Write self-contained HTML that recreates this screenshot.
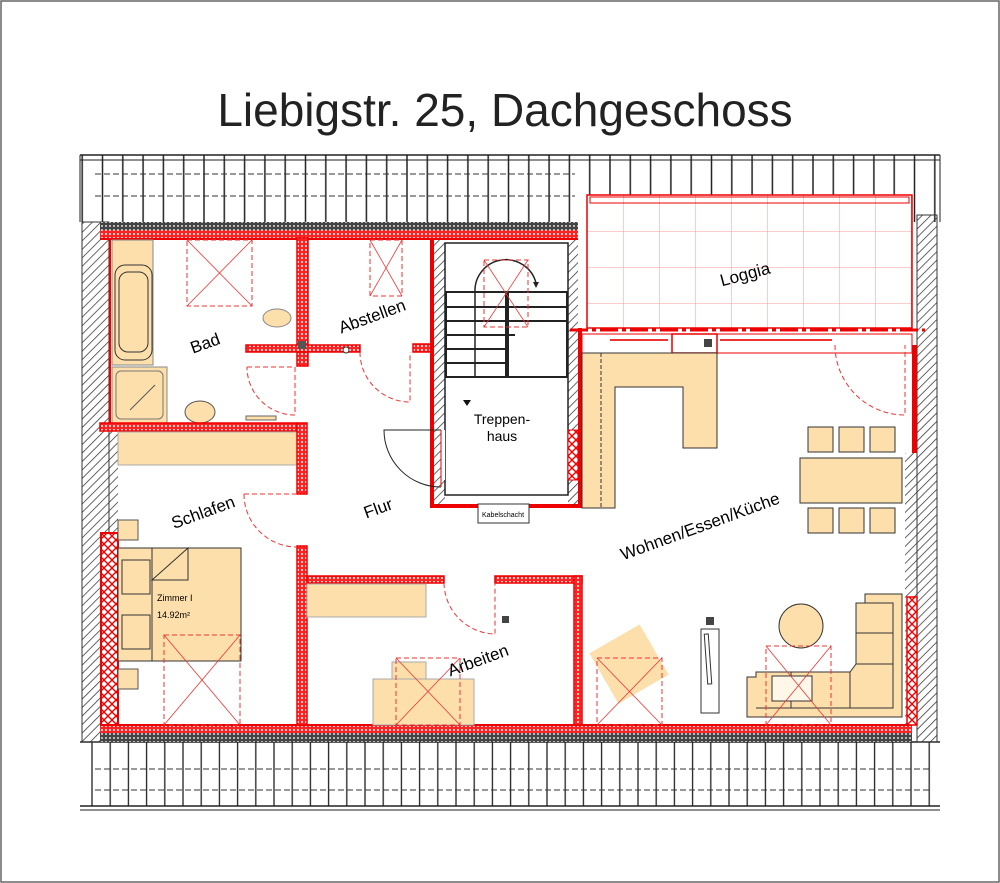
<!DOCTYPE html>
<html><head><meta charset="utf-8"><style>
html,body{margin:0;padding:0;background:#fff;}
svg{display:block;}
text{font-family:"Liberation Sans",Arial,sans-serif;}
</style></head><body>
<svg width="1000" height="883" viewBox="0 0 1000 883" xmlns="http://www.w3.org/2000/svg">
<defs>
<pattern id="raf" x="0" y="0" width="20.3" height="10" patternUnits="userSpaceOnUse"><line x1="1" y1="0" x2="1" y2="10" stroke="#222" stroke-width="1.5"/></pattern>
<pattern id="raf2" x="0" y="0" width="18.2" height="10" patternUnits="userSpaceOnUse"><line x1="1" y1="0" x2="1" y2="10" stroke="#222" stroke-width="1.3"/></pattern>
<pattern id="hat" width="6" height="6" patternUnits="userSpaceOnUse" patternTransform="rotate(45)"><line x1="0" y1="0" x2="0" y2="6" stroke="#333" stroke-width="1.5"/></pattern>
<pattern id="rx" width="8" height="8" patternUnits="userSpaceOnUse"><rect width="8" height="8" fill="#fff"/><path d="M0 0L8 8M8 0L0 8" stroke="#e00" stroke-width="1.4"/></pattern>
<pattern id="rw" width="4" height="4" patternUnits="userSpaceOnUse"><rect width="4" height="4" fill="#f22"/><circle cx="2" cy="2" r="1" fill="#fff"/></pattern>
<pattern id="gw" width="4" height="4" patternUnits="userSpaceOnUse"><rect width="4" height="4" fill="#444"/><circle cx="2" cy="2" r="1" fill="#ddd"/></pattern>
<pattern id="grid" x="587" y="195" width="36" height="36" patternUnits="userSpaceOnUse"><path d="M0 0H36M0 0V36" stroke="#f59a9a" stroke-width="1"/></pattern>
</defs>
<rect x="1" y="1" width="998" height="881" fill="none" stroke="#666" stroke-width="1.5"/>
<text x="505" y="126" font-size="46" text-anchor="middle" fill="#222">Liebigstr. 25, Dachgeschoss</text>

<!-- top roof band -->
<rect x="80" y="155" width="860" height="67" fill="url(#raf)"/>
<line x1="80" y1="155" x2="940" y2="155" stroke="#222" stroke-width="1.5"/>
<line x1="80" y1="160" x2="940" y2="160" stroke="#222" stroke-width="1"/>
<line x1="80" y1="155" x2="80" y2="222" stroke="#222"/>
<line x1="940" y1="155" x2="940" y2="222" stroke="#222"/>
<line x1="95" y1="174" x2="575" y2="174" stroke="#333" stroke-dasharray="6,3"/>
<line x1="95" y1="196" x2="575" y2="196" stroke="#333" stroke-dasharray="6,3"/>
<rect x="587" y="195" width="325" height="30" fill="#fff"/>

<!-- bottom roof band -->
<rect x="80" y="742" width="860" height="64" fill="url(#raf2)"/>
<line x1="80" y1="742" x2="940" y2="742" stroke="#222" stroke-width="1.5"/>
<line x1="80" y1="806" x2="940" y2="806" stroke="#222" stroke-width="1.5"/>
<line x1="80" y1="810" x2="940" y2="810" stroke="#222" stroke-width="1"/>
<line x1="95" y1="769" x2="930" y2="769" stroke="#333" stroke-dasharray="6,3"/>
<line x1="95" y1="790" x2="930" y2="790" stroke="#333" stroke-dasharray="6,3"/>

<!-- side hatched walls -->
<rect x="82" y="222" width="27" height="520" fill="url(#hat)" stroke="#333"/>
<rect x="109" y="430" width="9" height="103" fill="url(#hat)"/>
<rect x="917" y="215" width="20" height="527" fill="url(#hat)" stroke="#333"/>
<rect x="905" y="453" width="12" height="272" fill="url(#hat)"/>
<!-- top wall -->
<rect x="100" y="222" width="478" height="8" fill="url(#gw)"/>
<rect x="100" y="230" width="478" height="9" fill="url(#rw)"/>
<line x1="100" y1="239" x2="578" y2="239" stroke="#e00" stroke-width="2"/>
<!-- bottom wall -->
<rect x="100" y="725" width="812" height="8" fill="url(#rw)"/>
<rect x="100" y="733" width="812" height="9" fill="url(#gw)"/>
<line x1="100" y1="725" x2="912" y2="725" stroke="#e00" stroke-width="2"/>
<!-- left red crosshatch -->
<rect x="101" y="533" width="17" height="192" fill="url(#rx)" stroke="#e00" stroke-width="2"/>
<rect x="907" y="597" width="10" height="128" fill="url(#rx)" stroke="#e00" stroke-width="1.5"/>
<line x1="110" y1="239" x2="110" y2="430" stroke="#e00" stroke-width="2"/>

<!-- Bad -->
<rect x="112" y="240" width="41" height="125" fill="#fddfac" stroke="#888"/>
<rect x="115" y="265" width="37" height="95" rx="10" fill="#fddfac" stroke="#333"/>
<rect x="119" y="272" width="29" height="80" rx="9" fill="none" stroke="#333"/>
<rect x="112" y="367" width="55" height="56" fill="#fddfac" stroke="#888"/>
<rect x="116" y="371" width="47" height="48" rx="5" fill="none" stroke="#777"/>
<line x1="130" y1="410" x2="155" y2="385" stroke="#555"/>
<rect x="187" y="240" width="65" height="66" fill="none" stroke="#e33" stroke-dasharray="5,3"/>
<path d="M187 240L252 306M252 240L187 306" stroke="#e33" stroke-width="0.8"/>
<ellipse cx="277" cy="318" rx="14" ry="9" fill="#fddfac" stroke="#888"/>
<ellipse cx="200" cy="412" rx="15" ry="11" fill="#fddfac" stroke="#555"/>
<rect x="246" y="416" width="30" height="4" fill="#fddfac" stroke="#666"/>
<path d="M247 367 H295 V415 A48 48 0 0 1 247 367" fill="none" stroke="#e33" stroke-dasharray="5,3"/>
<rect x="100" y="423" width="197" height="8" fill="url(#rw)" stroke="#e00" stroke-width="1.5"/>
<rect x="297" y="238" width="11" height="128" fill="url(#rw)" stroke="#e00" stroke-width="1.5"/>
<rect x="246" y="345" width="114" height="7" fill="url(#rw)" stroke="#e00" stroke-width="1.5"/>
<rect x="298" y="341" width="8" height="8" fill="#555"/>
<rect x="413" y="344" width="20" height="8" fill="url(#rw)" stroke="#e00" stroke-width="1.5"/>
<text x="205" y="349" font-size="17" transform="rotate(-20 205 343)" text-anchor="middle">Bad</text>

<!-- Abstellen -->
<rect x="370" y="240" width="32" height="56" fill="none" stroke="#e33" stroke-dasharray="5,3"/>
<path d="M370 240L402 296M402 240L370 296" stroke="#e33" stroke-width="0.8"/>
<path d="M360 352 A50 50 0 0 0 410 402 V352" fill="none" stroke="#e33" stroke-dasharray="5,3"/>
<circle cx="346" cy="350" r="3" fill="#fff" stroke="#333"/>
<text x="372" y="322" font-size="17" transform="rotate(-20 372 316)" text-anchor="middle">Abstellen</text>

<!-- Treppenhaus -->
<rect x="430" y="238" width="4" height="270" fill="#e00"/>
<rect x="430" y="504" width="152" height="4" fill="#e00"/>
<rect x="578" y="328" width="4" height="180" fill="#e00"/>
<rect x="434" y="240" width="11" height="265" fill="url(#hat)"/>
<rect x="568" y="240" width="10" height="265" fill="url(#hat)"/>
<rect x="445" y="243" width="123" height="252" fill="#fff" stroke="#222" stroke-width="1.5"/>
<rect x="446" y="292" width="121" height="85" fill="none" stroke="#222" stroke-width="2"/>
<g stroke="#222" stroke-width="2"><line x1="446" y1="307" x2="567" y2="307"/><line x1="446" y1="321" x2="567" y2="321"/><line x1="446" y1="335" x2="515" y2="335"/><line x1="446" y1="349" x2="507" y2="349"/><line x1="446" y1="363" x2="507" y2="363"/></g>
<line x1="475" y1="292" x2="475" y2="377" stroke="#222" stroke-width="1.5"/>
<line x1="507" y1="292" x2="507" y2="377" stroke="#222" stroke-width="4"/>
<path d="M475 292 A31 31 0 0 1 536 283" fill="none" stroke="#222" stroke-width="1.5"/>
<path d="M533 282 L539 282 L536 288Z" fill="#222"/>
<rect x="484" y="260" width="44" height="67" fill="none" stroke="#e33" stroke-dasharray="5,3"/>
<path d="M484 260L528 327M528 260L484 327" stroke="#e33" stroke-width="0.8"/>
<rect x="441" y="430" width="4" height="50" fill="#fff"/>
<path d="M441 430 H384 A57 57 0 0 0 441 487" fill="none" stroke="#222" stroke-width="1"/>
<line x1="441" y1="430" x2="441" y2="487" stroke="#e00"/>
<rect x="568" y="430" width="10" height="50" fill="url(#rx)" stroke="#e00"/>
<path d="M463 400 L471 400 L467 406Z" fill="#111"/>
<text x="502" y="424" font-size="14" text-anchor="middle">Treppen-</text>
<text x="502" y="441" font-size="14" text-anchor="middle">haus</text>
<rect x="478" y="504" width="51" height="19" fill="#fff" stroke="#333"/>
<text x="503" y="517" font-size="7" text-anchor="middle">Kabelschacht</text>

<!-- Loggia -->
<rect x="587" y="195" width="325" height="133" fill="url(#grid)"/>
<rect x="587" y="195" width="325" height="133" fill="none" stroke="#e00" stroke-width="1.5"/>
<rect x="590" y="197" width="319" height="6" fill="none" stroke="#e00"/>
<line x1="570" y1="330" x2="925" y2="330" stroke="#e00" stroke-width="3" stroke-dasharray="18,4,4,4"/>
<text x="745" y="280" font-size="17" transform="rotate(-15 745 274)" text-anchor="middle">Loggia</text>
<rect x="582" y="334" width="330" height="19" fill="#fff" stroke="#e00"/>
<rect x="672" y="334" width="45" height="19" fill="none" stroke="#e00" stroke-width="1.5"/>
<rect x="704" y="339" width="8" height="8" fill="#444"/>
<line x1="720" y1="340" x2="832" y2="340" stroke="#e33" stroke-width="2"/>
<line x1="610" y1="340" x2="668" y2="340" stroke="#e33" stroke-width="2"/>
<path d="M835 345 A70 70 0 0 0 905 415 V345" fill="none" stroke="#e33" stroke-dasharray="5,3"/>
<rect x="912" y="345" width="5" height="108" fill="#e00"/>

<!-- Kitchen -->
<path d="M582 353 H717 V448 H683 V387 H615 V508 H582Z" fill="#fddfac" stroke="#333"/>
<line x1="601" y1="353" x2="601" y2="508" stroke="#333" stroke-dasharray="4,2"/>
<rect x="800" y="458" width="102" height="45" fill="#fddfac" stroke="#333"/>
<g fill="#fddfac" stroke="#333">
<rect x="808" y="427" width="25" height="25"/><rect x="839" y="427" width="25" height="25"/><rect x="870" y="427" width="25" height="25"/>
<rect x="808" y="508" width="25" height="25"/><rect x="839" y="508" width="25" height="25"/><rect x="870" y="508" width="25" height="25"/>
</g>
<text x="700" y="532" font-size="17" transform="rotate(-20 700 526)" text-anchor="middle">Wohnen/Essen/Küche</text>

<!-- Living -->
<rect x="600" y="635" width="58" height="58" fill="#fddfac" transform="rotate(-30 629 664)"/>
<rect x="597" y="658" width="65" height="67" fill="none" stroke="#e33" stroke-dasharray="5,3"/>
<path d="M597 658L662 725M662 658L597 725" stroke="#e33" stroke-width="0.8"/>
<rect x="701" y="629" width="18" height="84" fill="#fff" stroke="#333"/>
<rect x="706" y="634" width="4" height="50" fill="none" stroke="#333" transform="rotate(-4 708 659)"/>
<rect x="706" y="617" width="8" height="8" fill="#444"/>
<path d="M865 594 H902 V717 H747 V677 H756 V672 H850 L856 664 V603 H865Z" fill="#fddfac" stroke="#333"/>
<path d="M856 603 H893 V708 H756 M856 633 H893 M856 664 H893 M850 672 V708 M791 672 V708" fill="none" stroke="#333"/>
<rect x="772" y="676" width="40" height="25" fill="#fff7e8" stroke="#333"/>
<circle cx="801" cy="626" r="22" fill="#fddfac" stroke="#333"/>
<rect x="766" y="646" width="65" height="79" fill="none" stroke="#e33" stroke-dasharray="5,3"/>
<path d="M766 646L831 725M831 646L766 725" stroke="#e33" stroke-width="0.8"/>

<!-- Schlafen -->
<rect x="118" y="432" width="179" height="33" fill="#fddfac" stroke="#aaa"/>
<rect x="297" y="423" width="10" height="71" fill="url(#rw)" stroke="#e00" stroke-width="1.5"/>
<rect x="297" y="546" width="10" height="179" fill="url(#rw)" stroke="#e00" stroke-width="1.5"/>
<path d="M244 494 H297 M244 494 A53 53 0 0 0 297 547" fill="none" stroke="#e33" stroke-dasharray="5,3"/>
<rect x="118" y="548" width="123" height="113" fill="#fddfac" stroke="#333"/>
<line x1="152" y1="548" x2="152" y2="661" stroke="#333"/>
<path d="M152 580 L188 548 V580Z" fill="none" stroke="#333"/>
<rect x="122" y="560" width="28" height="34" fill="#fddfac" stroke="#333"/>
<rect x="122" y="615" width="28" height="34" fill="#fddfac" stroke="#333"/>
<rect x="118" y="520" width="20" height="20" fill="#fddfac" stroke="#555"/>
<rect x="118" y="669" width="20" height="20" fill="#fddfac" stroke="#555"/>
<rect x="164" y="635" width="76" height="90" fill="none" stroke="#e33" stroke-dasharray="5,3"/>
<path d="M164 635L240 725M240 635L164 725" stroke="#e33" stroke-width="0.8"/>
<text x="157" y="601" font-size="9">Zimmer I</text>
<text x="157" y="618" font-size="9">14.92m²</text>
<text x="203" y="518" font-size="17" transform="rotate(-20 203 512)" text-anchor="middle">Schlafen</text>
<text x="378" y="514" font-size="17" transform="rotate(-20 378 508)" text-anchor="middle">Flur</text>

<!-- Arbeiten -->
<rect x="307" y="576" width="137" height="7" fill="url(#rw)" stroke="#e00" stroke-width="1.5"/>
<rect x="495" y="576" width="87" height="7" fill="url(#rw)" stroke="#e00" stroke-width="1.5"/>
<rect x="574" y="576" width="8" height="149" fill="url(#rw)" stroke="#e00" stroke-width="1.5"/>
<rect x="307" y="584" width="119" height="33" fill="#fddfac" stroke="#aaa"/>
<path d="M444 583 A52 52 0 0 0 495 634 V583" fill="none" stroke="#e33" stroke-dasharray="5,3"/>
<rect x="502" y="616" width="7" height="7" fill="#444"/>
<rect x="392" y="662" width="34" height="17" fill="#fddfac" stroke="#aaa"/>
<rect x="373" y="679" width="101" height="46" fill="#fddfac" stroke="#aaa"/>
<rect x="396" y="658" width="64" height="67" fill="none" stroke="#e33" stroke-dasharray="5,3"/>
<path d="M396 658L460 725M460 658L396 725" stroke="#e33" stroke-width="0.8"/>
<text x="478" y="666" font-size="17" transform="rotate(-20 478 660)" text-anchor="middle">Arbeiten</text>
</svg>
</body></html>
